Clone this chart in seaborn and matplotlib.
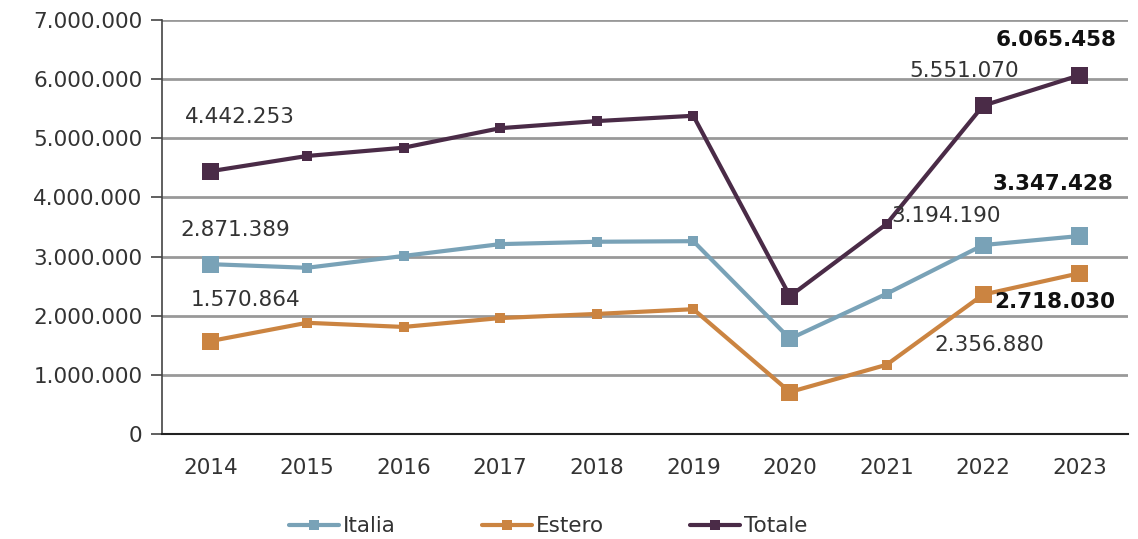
import pandas as pd, numpy as np
import matplotlib
matplotlib.use("Agg")
import matplotlib.pyplot as plt
from matplotlib.ticker import FuncFormatter, MultipleLocator
import seaborn as sns

years = [2014, 2015, 2016, 2017, 2018, 2019, 2020, 2021, 2022, 2023]
italia = [2871389, 2810000, 3010000, 3210000, 3250000, 3260000, 1610000, 2370000, 3194190, 3347428]
estero = [1570864, 1880000, 1810000, 1960000, 2030000, 2110000, 710000, 1170000, 2356880, 2718030]
totale = [4442253, 4700000, 4840000, 5170000, 5290000, 5380000, 2330000, 3550000, 5551070, 6065458]
series = ["Italia", "Estero", "Totale"]
colors = {"Italia": "#79A2B7", "Estero": "#CB8441", "Totale": "#4A2B47"}
big_years = [2014, 2020, 2022, 2023]

df = pd.DataFrame({"anno": years * 3,
                   "valore": italia + estero + totale,
                   "serie": sum([[s] * len(years) for s in series], [])})

sns.set_style("white")
plt.rcParams["font.family"] = ["DejaVu Sans"]
FS = 15.5

fig = plt.figure(figsize=(11.38, 5.39), dpi=100)
ax = fig.add_axes([0.1424, 0.1948, 0.8488, 0.7682])
ax.yaxis.grid(True, color="#999999", lw=2)
ax.set_axisbelow(True)

sns.lineplot(data=df, x="anno", y="valore", hue="serie", palette=colors,
             marker="s", markersize=6.5, markeredgewidth=0, lw=3, ax=ax)
sns.scatterplot(data=df[df["anno"].isin(big_years)], x="anno", y="valore",
                hue="serie", palette=colors, marker="s", s=150, linewidth=0,
                legend=False, ax=ax, zorder=5)

ax.set_xlim(2013.5, 2023.5)
ax.set_ylim(0, 7000000)
ax.yaxis.set_major_locator(MultipleLocator(1000000))
ax.yaxis.set_major_formatter(FuncFormatter(lambda v, p: f"{int(v):,}".replace(",", ".")))
ax.set_xticks(years)
ax.set_xticks(np.arange(2013.5, 2024, 1), minor=True)
ax.tick_params(axis="x", which="major", length=0, labelsize=FS, labelcolor="#333333", pad=17)
ax.tick_params(axis="x", which="minor", length=8, width=1.2, color="#222222", direction="out")
ax.tick_params(axis="y", length=8, width=1.2, color="#444444", labelsize=FS,
               labelcolor="#333333", pad=6, left=True)
ax.set_xlabel(""); ax.set_ylabel("")
for s in ["top", "right"]:
    ax.spines[s].set_visible(False)
ax.spines["left"].set_color("#444444"); ax.spines["left"].set_linewidth(1.2)
ax.spines["bottom"].set_color("#222222"); ax.spines["bottom"].set_linewidth(1.5)

# etichette valori: (serie, anno, offset px, grassetto)
labels = [("Totale", 2014, (30, 54), False), ("Italia", 2014, (25, 34), False),
          ("Estero", 2014, (35, 41), False), ("Totale", 2022, (-19, 35), False),
          ("Totale", 2023, (-24, 35), True), ("Italia", 2023, (-27, 52), True),
          ("Italia", 2022, (-37, 29), False), ("Estero", 2023, (-25, -29), True),
          ("Estero", 2022, (6, -50), False)]
vals = {"Italia": italia, "Estero": estero, "Totale": totale}
for s, yr, off, bold in labels:
    v = vals[s][years.index(yr)]
    ax.annotate(f"{v:,}".replace(",", "."), xy=(yr, v), xytext=off,
                textcoords="offset pixels", ha="center", va="center",
                fontsize=FS, color="#111111" if bold else "#333333",
                fontweight="bold" if bold else "normal", zorder=6)

h, l = ax.get_legend_handles_labels()
leg = ax.legend(h, l, loc="center", bbox_to_anchor=(0.40, -0.223), ncol=3, frameon=False,
                fontsize=FS, handlelength=2.3, handletextpad=0.2, columnspacing=4.0)
for t in leg.get_texts():
    t.set_color("#333333")

fig.savefig("out.png", dpi=100)
